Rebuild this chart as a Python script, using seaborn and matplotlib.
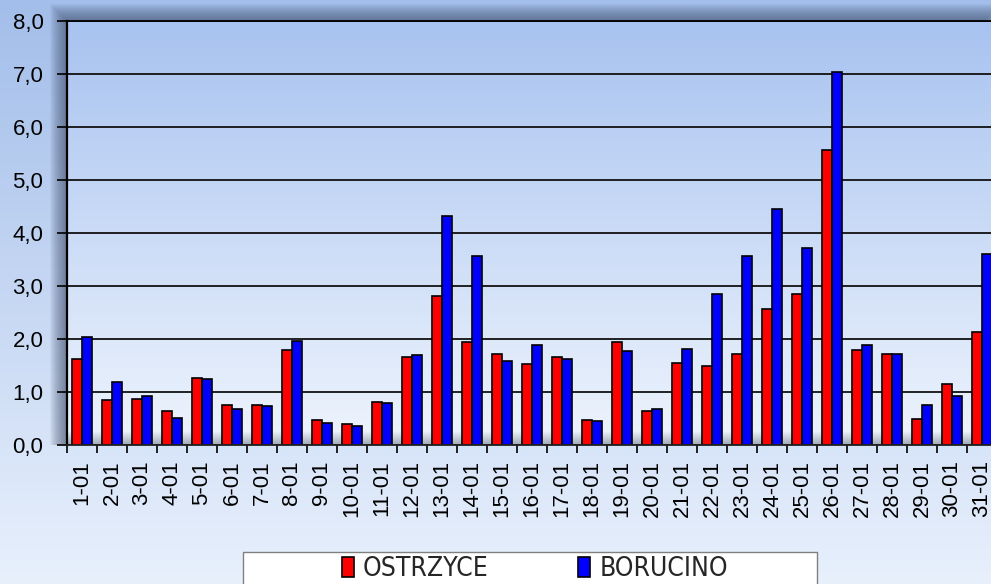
import numpy as np
import pandas as pd
import matplotlib
matplotlib.use("Agg")
import matplotlib.pyplot as plt
import seaborn as sns
from matplotlib.colors import LinearSegmentedColormap
from matplotlib.patches import Rectangle
from matplotlib.ticker import FuncFormatter, MultipleLocator

days = [f"{d}-01" for d in range(1, 32)]
ostrzyce = [1.63, 0.85, 0.87, 0.64, 1.26, 0.75, 0.75, 1.80, 0.47, 0.39,
            0.81, 1.66, 2.82, 1.94, 1.72, 1.52, 1.66, 0.47, 1.94, 0.64,
            1.55, 1.49, 1.72, 2.56, 2.84, 5.57, 1.80, 1.72, 0.50, 1.15, 2.14]
borucino = [2.04, 1.18, 0.92, 0.51, 1.24, 0.67, 0.73, 1.97, 0.42, 0.36,
            0.79, 1.69, 4.33, 3.57, 1.58, 1.89, 1.63, 0.45, 1.77, 0.67,
            1.82, 2.84, 3.57, 4.45, 3.72, 7.04, 1.88, 1.72, 0.75, 0.92, 3.60]
stations = ["OSTRZYCE", "BORUCINO"]
colors = {"OSTRZYCE": "#FF0000", "BORUCINO": "#0000FF"}

df = pd.DataFrame({
    "day": days * 2,
    "value": ostrzyce + borucino,
    "station": [stations[0]] * 31 + [stations[1]] * 31,
})

sns.set_style("white")
plt.rcParams['font.family'] = ['Liberation Sans', 'DejaVu Sans']

fig = plt.figure(figsize=(9.91, 5.84), dpi=100)

# background gradient for the whole figure
bg = fig.add_axes([0, 0, 1, 1], zorder=-10)
grad = np.linspace(0, 1, 256).reshape(-1, 1)
bg_cmap = LinearSegmentedColormap.from_list("bg", ["#A3BEEA", "#E8F0FC"])
bg.imshow(grad, aspect='auto', cmap=bg_cmap, extent=(0, 1, 0, 1), origin='upper')
bg.set_xlim(0, 1)
bg.set_ylim(0, 1)
bg.axis('off')

x0, x1 = 67 / 991, 986 / 991
y0, y1 = (584 - 445) / 584, (584 - 21) / 584
px, py = 1 / 991, 1 / 584

# soft shadow round the plot area
for r in range(1, 18):
    bg.add_patch(Rectangle((x0 - r * px, y0), (x1 - x0) + 1.6 * r * px, (y1 - y0) + r * py,
                           facecolor='#3e4c6a', edgecolor='none', alpha=0.05))

# legend box
bg.add_patch(Rectangle((243 / 991, -0.02), 574 / 991, (584 - 552) / 584 + 0.02,
                       facecolor='white', edgecolor='#808080', linewidth=1))

ax = fig.add_axes([x0, y0, 997 / 991 - x0, y1 - y0])

sns.barplot(data=df, x="day", y="value", hue="station", palette=colors,
            width=0.66, edgecolor='black', linewidth=1.2, saturation=1,
            ax=ax)
handles, labels = ax.get_legend_handles_labels()
ax.get_legend().remove()

# plot area gradient
pa_cmap = LinearSegmentedColormap.from_list("pa", ["#A8C3F0", "#EEF4FD"])
ax.imshow(grad, aspect='auto', cmap=pa_cmap, extent=(-0.5, 30.5, 0, 8),
          origin='upper', zorder=0)
# floor shade
floor = np.zeros((64, 1, 4))
floor[:, 0, :3] = np.array([0.52, 0.56, 0.62])
floor[:, 0, 3] = np.linspace(0.0, 0.75, 64)
ax.imshow(floor, aspect='auto', extent=(-0.5, 30.5, 0, 0.25),
          origin='upper', zorder=0.2)

ax.set_xlim(-0.5, 30.5)
ax.set_ylim(0, 8)
ax.set_xlabel("")
ax.set_ylabel("")

ax.yaxis.set_major_locator(MultipleLocator(1))
ax.yaxis.set_major_formatter(FuncFormatter(lambda v, p: f"{v:.1f}".replace('.', ',')))
ax.yaxis.grid(True, color='#111111', linewidth=1.3)
ax.set_axisbelow(True)

ax.spines['right'].set_visible(False)
ax.spines['left'].set_color('black')
ax.spines['left'].set_linewidth(1.6)
ax.spines['bottom'].set_color('#222222')
ax.spines['bottom'].set_linewidth(1.3)
ax.spines['top'].set_color('black')
ax.spines['top'].set_linewidth(1.3)

ax.tick_params(axis='y', which='major', direction='out', length=7, width=1.2,
               color='black', labelsize=16, pad=10, labelcolor='black', left=True)
ax.set_xticks(np.arange(-0.5, 31, 1), minor=True)
ax.tick_params(axis='x', which='major', length=0, labelsize=16, pad=11,
               labelrotation=90, labelcolor='black')
ax.tick_params(axis='x', which='minor', direction='out', length=6, width=1.2,
               color='black', bottom=True)

fig.legend(handles, labels, loc='center', bbox_to_anchor=(535 / 991, (584 - 569) / 584),
           ncol=2, frameon=False, handlelength=0.45, handleheight=0.8,
           handletextpad=0.35, columnspacing=3.4,
           prop={'family': 'DejaVu Sans', 'stretch': 'condensed', 'size': 19})

fig.savefig("out.png", dpi=100)
